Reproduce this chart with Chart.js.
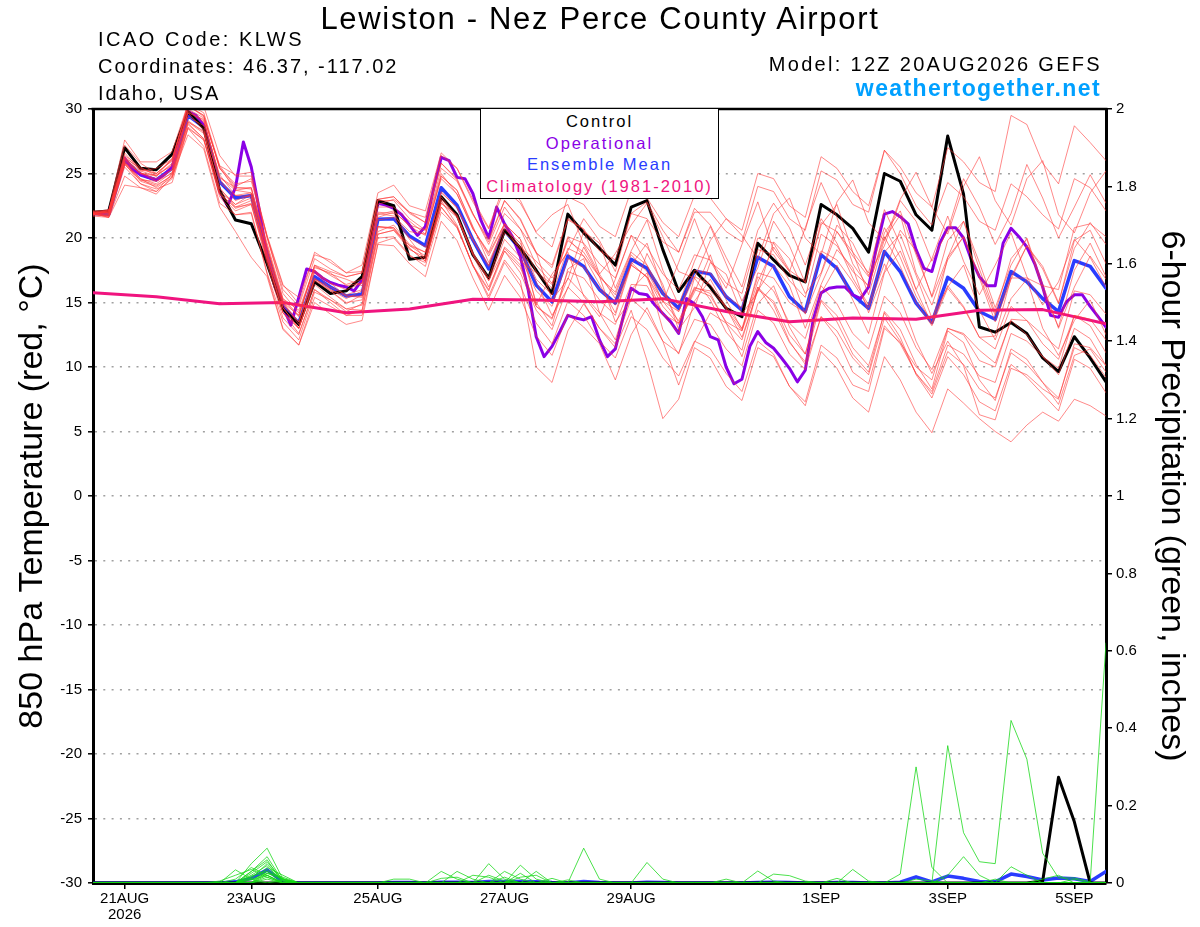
<!DOCTYPE html>
<html><head><meta charset="utf-8">
<script src="https://cdn.jsdelivr.net/npm/chart.js@4.4.1/dist/chart.umd.min.js"></script>
<style>
html,body{margin:0;padding:0;background:#fff;}
#wrap{position:relative;width:1200px;height:927px;overflow:hidden;font-family:"Liberation Sans",Arial,Helvetica,sans-serif;}
canvas{position:absolute;left:0;top:0;}
.t{position:absolute;white-space:nowrap;color:#000;line-height:1;}
#legend{position:absolute;left:480px;top:108px;width:237px;height:89px;border:1.5px solid #000;background:#fff;}
#legend div{position:absolute;left:0;width:100%;text-align:center;font-size:16.5px;letter-spacing:2px;line-height:1;white-space:nowrap;}
</style></head>
<body><div id="wrap">
<canvas id="c" width="1200" height="927"></canvas>
<div class="t" style="left:0;width:1200px;text-align:center;top:3px;font-size:31px;letter-spacing:1.7px;">Lewiston - Nez Perce County Airport</div>
<div class="t" style="left:98px;top:29px;font-size:20px;letter-spacing:2.5px;">ICAO Code: KLWS</div>
<div class="t" style="left:98px;top:56px;font-size:20px;letter-spacing:2px;">Coordinates: 46.37, -117.02</div>
<div class="t" style="left:98px;top:82.5px;font-size:20px;letter-spacing:2px;">Idaho, USA</div>
<div class="t" style="right:98px;top:54px;font-size:20px;letter-spacing:2.3px;">Model: 12Z 20AUG2026 GEFS</div>
<div class="t" style="right:99px;top:77px;font-size:23px;font-weight:bold;letter-spacing:1.4px;color:#00a0ff;">weathertogether.net</div>
<div id="legend">
  <div style="top:4px;color:#000;">Control</div>
  <div style="top:25.5px;color:#8a00e6;">Operational</div>
  <div style="top:46.5px;color:#2a3cff;">Ensemble Mean</div>
  <div style="top:69px;color:#f0147f;">Climatology (1981-2010)</div>
</div>
</div>
<script>
// ---- time axis (hours after 12Z 20AUG2026) ----
const tickHours  = [12, 60, 108, 156, 204, 276, 324, 372];
const tickLabels = [["21AUG","2026"], "23AUG", "25AUG", "27AUG", "29AUG", "1SEP", "3SEP", "5SEP"];

// ---- 850 hPa temperature (°C), 6-hourly ----
const controlTemp = [22.0,22.1,27.0,25.4,25.3,26.5,29.8,28.5, 23.7,21.4,21.1,18.0,14.5,13.3,16.6,15.7, 15.9,17.0,22.9,22.5,18.35,18.5,23.2,21.8, 18.7,16.9,20.6,19.2,17.5,15.7,21.85,20.4, 19.2,17.9,22.4,22.9,19.1,15.85,17.5,16.2, 14.55,13.9,19.6,18.3,17.1,16.6,22.6,21.8, 20.75,18.9,25.0,24.4,21.8,20.6,27.9,23.4, 13.1,12.7,13.45,12.6,10.7,9.65,12.35,10.7, 8.85];
const meanTemp = [21.9,21.85,26.05,24.9,24.5,25.4,29.5,28.6, 24.35,23.1,23.3,18.8,14.7,13.4,17.0,16.2, 15.5,15.65,21.45,21.5,20.15,19.4,23.9,22.55, 19.85,17.6,20.6,19.1,16.35,15.05,18.6,17.8, 16.0,14.95,18.35,17.65,15.7,14.55,17.45,17.2, 15.45,14.4,18.5,17.8,15.45,14.3,18.7,17.65, 15.6,14.55,18.95,17.4,14.95,13.45,16.95,16.1, 14.3,13.7,17.4,16.6,15.3,14.3,18.25,17.8, 16.1];
// operational run, 3-hourly
const operationalTemp = [21.9,21.9,22.1,24.0,26.2,25.3,24.95,24.7, 24.5,24.9,25.5,27.85,29.8,29.5,28.75,26.05, 23.6,22.5,23.9,27.45,25.5,22.2,18.55,16.2, 14.7,13.25,15.4,17.6,17.4,16.9,16.55,16.35, 16.2,15.9,16.75,19.6,22.7,22.55,22.3,21.8, 21.0,20.2,20.9,23.7,26.25,26.0,24.7,24.6, 23.45,21.4,20.0,22.4,21.1,20.1,18.55,15.95, 12.35,10.8,11.6,12.75,14.0,13.8,13.65,13.9, 12.1,10.8,11.4,13.9,16.1,15.7,15.6,14.8, 14.15,13.5,12.6,15.3,14.9,13.9,12.35,12.1, 10.0,8.7,9.05,11.6,12.75,11.9,11.45,10.7, 9.9,8.85,9.75,13.65,15.75,16.1,16.2,16.2, 15.6,15.3,16.2,19.3,21.85,22.05,21.65,21.1, 19.1,17.65,17.4,19.6,20.8,20.8,20.0,18.3, 17.0,16.3,16.3,19.6,20.75,20.1,19.3,18.0, 16.2,14.0,13.85,15.05,15.6,15.6,14.7,13.9, 13.1];
// climatology, daily at 12Z
const climatologyTemp = [15.75,15.45,14.9,15.0,14.2,14.5,15.25,15.2,15.05,15.3,14.3,13.5,13.8,13.7,14.4,14.45,13.35];

const member01 = [21.9,22.0,27.2,25.8,25.0,26.0,30.2,29.5, 25.4,24.2,24.4,20.0,16.0,14.7,18.4,17.6, 17.0,17.3,23.0,23.2,22.0,21.2,25.8,24.6, 21.9,19.7,22.9,21.5,18.9,17.7,21.4,20.7, 19.0,18.3,21.9,21.5,19.7,18.9,22.0,22.0, 20.5,19.7,24.0,23.6,21.5,20.6,25.2,24.5, 22.6,22.0,26.8,25.5,23.5,22.4,27.0,25.9, 24.3,23.6,29.5,28.8,25.8,24.2,28.7,27.4, 26.0];
const member02 = [21.8,21.7,25.9,24.6,24.2,25.1,29.0,28.1, 23.9,22.4,22.6,18.0,13.8,12.5,16.0,15.2, 14.5,14.4,20.0,20.1,18.7,17.8,22.0,20.8, 17.9,15.3,18.1,16.3,13.4,11.8,15.1,14.0, 12.0,10.7,13.9,12.9,10.7,9.3,12.0,11.4, 9.5,8.1,12.0,11.0,8.5,7.0,11.2,9.9, 7.6,6.5,10.8,9.0,6.5,4.9,8.3,7.2, 6.0,5.0,4.2,5.5,6.5,5.8,7.5,7.0, 6.2];
const member03 = [22.0,22.1,26.4,25.5,24.8,26.2,30.0,29.3, 25.6,24.0,24.6,20.2,16.4,14.9,18.9,18.1, 17.3,17.9,23.5,24.1,22.5,22.1,26.6,25.4, 22.8,20.7,23.8,22.7,20.5,21.8,22.6,19.5, 17.2,18.8,21.0,22.7,20.1,17.4,16.9,19.8, 21.5,20.2,18.4,21.9,23.1,20.0,18.7,22.8, 24.5,21.2,19.8,23.0,25.1,22.4,20.3,24.0, 26.3,22.9,21.0,24.6,26.0,21.8,20.4,23.5, 25.2];
const member04 = [21.7,21.6,24.8,23.9,23.6,24.6,28.5,27.6, 23.2,21.8,21.9,17.2,13.0,11.7,15.0,14.1, 13.3,13.6,19.6,20.0,18.6,18.1,22.7,21.6, 18.7,16.2,19.0,17.3,14.4,12.9,16.2,15.0, 13.0,11.8,15.3,14.2,12.0,11.1,13.7,13.3, 11.4,10.1,14.4,13.4,11.0,9.8,13.9,12.8, 10.7,9.4,13.8,12.0,9.5,7.9,11.2,10.2, 8.3,7.6,11.1,10.2,8.8,7.6,11.5,10.9, 9.2];
const member05 = [22.0,21.9,26.2,25.0,24.9,25.6,29.9,29.1, 24.7,23.7,23.5,19.4,15.0,13.3,17.5,16.0, 15.3,15.9,21.9,21.7,20.5,20.3,24.6,23.4, 20.7,18.9,21.9,20.7,18.9,15.2,16.8,20.5, 19.6,16.1,19.0,21.4,17.5,14.8,18.2,20.9, 18.0,15.1,17.7,21.3,19.4,16.5,21.0,22.6, 18.9,17.3,22.2,19.5,16.0,18.4,21.7,18.2, 15.6,17.9,20.4,17.0,14.8,16.6,19.9,18.5, 16.2];
const member06 = [21.8,22.2,25.7,24.5,24.4,25.0,29.0,28.3, 23.6,22.6,23.4,18.6,15.2,13.9,17.8,17.2, 16.8,16.3,22.0,21.9,20.0,19.3,23.2,21.6, 18.7,16.7,19.2,17.9,14.7,13.8,16.9,15.6, 14.2,13.3,16.4,16.3,14.1,13.4,16.1,15.9, 14.7,13.0,17.0,15.9,13.4,12.2,16.3,14.9, 12.6,11.4,15.5,14.2,11.5,9.8,13.0,12.5, 10.5,10.0,13.7,13.6,12.5,11.4,15.9,15.6, 14.1];
const member07 = [22.1,22.1,26.6,25.2,25.4,26.1,30.4,29.7, 25.6,24.9,25.1,20.1,16.3,15.4,18.7,18.3, 17.3,17.4,22.9,22.9,21.5,20.6,25.0,23.4, 20.7,18.8,21.1,19.9,14.8,17.2,18.9,15.5, 13.9,16.8,20.2,17.9,15.0,18.1,21.5,18.2, 16.1,19.5,22.8,19.0,17.4,20.8,24.3,21.6, 18.0,16.2,20.4,22.1,18.7,15.5,19.8,21.3, 17.6,14.2,18.4,19.9,16.0,13.1,17.5,19.6, 17.0];
const member08 = [21.9,21.6,25.5,24.2,23.8,24.3,28.5,27.1, 22.7,21.8,22.0,17.3,13.5,12.1,15.8,15.2, 14.3,14.9,20.5,21.0,19.5,18.9,23.6,22.3, 19.8,17.8,20.7,19.6,16.8,15.6,19.2,18.6, 17.0,15.6,18.7,17.4,15.1,13.6,16.2,15.7, 13.4,12.1,16.0,15.1,12.5,11.0,15.2,14.0, 11.5,10.1,14.2,12.3,9.4,7.6,10.8,9.4, 7.3,6.6,10.2,9.2,7.9,6.6,10.6,9.9, 8.0];
const member09 = [22.0,21.8,25.8,25.1,24.4,25.3,29.7,28.4, 24.6,22.9,23.4,18.3,14.6,13.0,16.7,15.9, 14.9,15.6,21.6,22.0,21.0,20.6,25.4,24.4, 21.8,19.9,22.9,21.4,18.8,17.9,21.5,20.7, 17.2,15.3,17.9,19.6,16.1,13.4,15.8,18.7, 15.2,12.9,16.6,19.3,17.4,14.1,17.2,20.5, 18.9,15.6,19.9,21.8,17.3,14.8,18.3,20.1, 16.9,13.5,16.8,19.4,17.8,15.0,19.2,21.2, 19.5];
const member10 = [21.9,22.0,26.1,25.2,24.8,25.8,29.7,29.2, 24.7,23.9,23.8,19.6,15.3,14.4,17.7,17.3, 16.3,16.5,21.4,21.6,19.9,18.3,22.9,21.0, 17.8,15.9,19.0,17.7,14.7,13.7,17.4,16.9, 15.2,14.0,17.9,17.0,15.1,14.3,17.5,17.3, 15.5,14.6,19.1,18.7,16.7,15.4,20.3,19.4, 17.4,16.3,20.1,17.8,15.0,13.2,16.1,14.6, 12.3,11.4,14.7,13.6,11.8,10.6,14.0,13.2, 11.1];
const member11 = [21.8,21.8,25.9,24.4,24.0,24.9,28.9,27.7, 23.5,22.3,22.7,18.3,14.2,13.0,16.8,16.2, 15.6,16.0,21.8,22.1,20.9,20.2,24.8,23.7, 20.8,18.6,21.1,19.2,15.0,13.2,17.6,18.4, 14.2,12.1,16.0,17.3,12.9,11.0,15.1,16.8, 14.6,12.3,15.9,17.9,16.3,13.0,16.4,19.1, 17.7,14.2,17.4,20.6,19.0,15.4,18.5,21.3, 18.1,14.6,17.9,20.0,16.4,13.0,16.2,18.6, 16.8];
const member12 = [21.9,22.1,26.2,25.4,25.0,26.1,30.3,29.4, 25.5,23.7,23.9,19.0,14.6,13.0,16.4,15.4, 14.5,14.8,20.3,20.6,19.1,18.5,22.7,21.8, 18.8,16.9,20.4,19.3,18.2,16.9,19.0,21.5, 19.8,17.4,21.9,22.8,20.6,18.9,22.3,21.0, 18.5,16.2,20.6,22.7,20.8,17.9,21.5,19.6, 16.9,14.8,18.9,20.3,17.1,13.8,16.2,17.9, 14.4,12.1,15.3,16.8,13.0,10.9,13.6,15.2, 12.5];
const member13 = [21.8,21.9,25.8,24.2,23.6,25.0,29.1,28.2, 23.8,22.6,23.1,18.7,14.8,13.5,17.3,16.5, 16.0,16.5,22.6,23.0,22.0,21.6,26.4,25.4, 23.0,20.8,24.2,22.9,20.4,19.3,23.2,22.6, 20.9,20.1,23.7,23.1,21.2,20.1,23.3,23.1, 21.5,20.6,25.0,24.6,22.5,21.6,26.3,25.4, 23.6,22.5,26.8,25.0,22.5,21.0,24.3,23.2, 21.3,20.6,24.2,23.2,21.8,20.7,24.6,23.9, 22.1];
const member14 = [22.0,22.0,26.1,25.0,24.8,25.7,29.8,29.0, 24.9,23.3,23.2,18.5,14.2,12.6,16.0,15.0, 14.0,14.0,19.5,19.4,18.0,17.0,21.3,19.8, 16.9,14.4,17.1,15.4,12.4,10.9,14.1,13.1, 11.8,9.0,12.5,14.6,12.0,8.6,11.9,14.2, 13.4,10.8,14.9,16.3,13.1,11.0,15.7,17.9, 15.2,12.6,17.3,19.0,16.0,13.3,18.5,20.1, 17.1,14.0,17.0,19.4,17.6,14.9,19.8,20.6, 18.0];
const member15 = [21.9,21.7,25.7,24.5,24.1,24.8,28.8,27.7, 23.4,22.4,22.9,18.8,15.0,14.0,17.9,17.4, 17.0,17.3,23.0,23.2,21.9,21.2,25.8,24.5, 21.9,19.5,22.4,20.7,17.9,16.5,19.8,18.9, 17.0,15.8,18.9,17.9,15.7,14.3,17.0,16.4, 14.5,12.8,16.2,14.9,12.0,10.2,13.9,12.3, 9.6,8.7,13.2,11.8,9.5,8.1,11.7,11.0, 9.3,8.8,12.6,12.0,10.8,9.9,14.0,13.7, 12.1];
const member16 = [22.0,22.2,27.6,25.9,25.9,26.7,30.4,30.2, 26.4,24.8,24.8,20.1,15.7,14.2,17.5,16.5, 15.5,15.5,20.9,20.7,19.2,18.2,22.4,20.9, 17.9,15.5,18.3,16.7,10.0,8.8,12.8,14.9, 13.0,11.5,14.4,10.5,6.0,7.5,11.5,10.7, 8.5,7.4,11.5,10.8,8.5,7.3,11.7,10.7, 8.6,8.1,13.0,11.9,10.0,9.0,13.0,12.6, 11.3,10.3,13.6,12.5,10.8,9.4,13.0,12.2, 10.1];
const member17 = [21.9,21.6,24.1,23.9,23.4,24.75,28.0,26.9, 22.4,20.5,18.5,17.0,12.9,11.7,15.4,14.7, 14.0,14.4,20.3,20.6,19.4,18.9,23.5,22.4, 19.9,17.9,21.1,19.9,17.4,16.4,20.1,19.6, 18.0,16.9,20.2,19.3,17.2,16.0,18.7,18.3, 16.5,15.7,20.0,19.6,17.5,16.6,21.2,20.5, 18.6,17.0,20.8,18.5,15.5,13.4,16.3,14.7, 12.3,12.4,16.9,16.9,16.3,16.0,20.8,21.1, 20.1];
const member18 = [21.9,22.0,26.0,25.0,24.6,25.3,29.4,28.7, 24.3,23.3,23.5,19.2,15.3,14.0,17.9,17.1, 16.4,16.8,22.4,22.4,21.3,20.3,24.8,23.7, 20.9,18.1,20.9,19.0,16.6,14.0,16.1,19.3, 17.0,13.5,15.2,18.8,16.4,12.9,14.6,18.1, 17.2,14.1,15.8,19.7,18.4,15.7,17.3,21.0, 19.6,17.1,19.4,22.9,21.3,18.2,20.6,24.6, 22.4,19.5,21.9,25.7,23.1,20.0,22.4,24.9, 22.7];
const member19 = [21.9,22.1,26.3,25.3,25.0,26.0,30.3,29.5, 25.4,23.9,23.9,19.3,15.0,13.5,16.9,15.9, 15.0,15.2,20.8,20.8,19.4,18.6,23.0,21.7, 18.9,16.7,19.9,18.5,15.9,14.7,18.4,17.7, 16.0,14.8,17.9,17.0,14.7,13.3,16.0,15.5, 13.5,12.8,17.3,16.9,15.0,14.2,19.0,18.3, 16.6,14.6,18.0,15.4,12.0,9.5,12.0,10.1, 6.3,5.9,9.9,9.4,8.3,7.5,11.8,11.5, 10.1];
const member20 = [21.9,21.7,25.8,24.6,23.9,24.7,28.6,27.6, 23.4,22.1,22.6,18.3,14.2,13.0,16.8,16.0, 15.5,15.4,20.9,20.8,19.2,18.2,22.4,20.8, 17.9,16.0,19.3,18.2,17.3,16.1,20.0,18.6, 16.4,14.2,18.1,16.9,14.1,12.6,16.9,15.2, 12.7,11.3,16.2,14.4,11.9,10.4,15.1,13.5, 11.0,9.6,14.3,12.9,10.2,8.3,12.8,11.9, 9.0,7.4,11.4,10.6,8.8,7.1,10.9,11.4, 9.6];
const tempMembers = [member01,member02,member03,member04,member05,member06,member07,member08,member09,member10,
                     member11,member12,member13,member14,member15,member16,member17,member18,member19,member20];

// ---- 6-hour precipitation (inches), 6-hourly ----
const controlPrecip = [0,0,0,0,0,0,0,0, 0,0,0,0,0,0,0,0, 0,0,0,0,0,0,0,0, 0,0,0,0,0,0,0,0, 0,0,0,0,0,0,0,0, 0,0,0,0,0,0,0,0, 0,0,0,0,0,0,0,0, 0,0,0,0,0.005,0.273,0.158,0, 0];
const meanPrecip = [0,0,0,0,0,0,0,0, 0,0.003,0.012,0.034,0.003,0,0,0, 0,0,0,0.001,0.001,0,0.002,0.002, 0.001,0.004,0.004,0.004,0.003,0.001,0,0.004, 0.001,0,0,0.002,0.001,0,0,0, 0,0,0.001,0.002,0.001,0,0,0.001, 0.001,0,0,0.002,0.016,0.003,0.018,0.012, 0.004,0.003,0.023,0.017,0.008,0.013,0.011,0.004, 0.03];
const precip01 = [0,0,0,0,0,0,0,0, 0,0.034,0.01,0,0,0,0,0, 0,0,0,0,0,0,0.03,0.01, 0,0,0,0,0,0,0,0, 0,0,0,0,0,0,0,0, 0,0,0,0,0,0,0,0, 0,0,0,0.023,0.30,0.04,0,0, 0,0,0,0,0,0,0,0, 0];
const precip02 = [0,0,0,0,0,0,0,0, 0,0,0.05,0.09,0.01,0,0,0, 0,0,0,0,0,0,0,0, 0,0,0,0,0,0,0,0.09, 0.01,0,0,0,0,0,0,0, 0,0,0,0,0,0,0,0, 0,0,0,0,0,0,0.355,0.13, 0.055,0.05,0.42,0.32,0.077,0.013,0.013,0.003, 0.62];
const precip03 = [0,0,0,0,0,0,0,0, 0,0,0.03,0.068,0.005,0,0,0, 0,0,0,0,0,0,0,0, 0,0.05,0.01,0,0,0,0,0, 0,0,0,0,0,0,0,0, 0,0,0,0,0,0,0,0, 0,0,0,0,0,0,0.02,0.068, 0.02,0,0.042,0.02,0,0,0,0, 0];
const precip04 = [0,0,0,0,0,0,0,0, 0,0,0.02,0.045,0,0,0,0, 0,0,0,0,0,0,0,0, 0,0,0,0.046,0.01,0,0,0, 0,0,0,0.053,0.01,0,0,0, 0,0,0,0,0,0,0,0, 0,0,0,0,0,0,0,0, 0,0,0,0,0,0,0,0, 0];
const precip05 = [0,0,0,0,0,0,0,0, 0,0,0.015,0.035,0.01,0,0,0, 0,0,0,0.01,0.01,0,0,0, 0,0,0,0,0,0,0,0, 0,0,0,0,0,0,0,0, 0,0,0.031,0.005,0,0,0,0, 0,0,0,0,0,0,0,0, 0,0,0,0,0,0,0,0, 0];
const precip06 = [0,0,0,0,0,0,0,0, 0,0.01,0.04,0.02,0,0,0,0, 0,0,0,0,0,0,0,0, 0,0,0.03,0.01,0,0,0,0, 0,0,0,0,0,0,0,0, 0,0,0,0,0,0,0,0, 0.035,0.005,0,0,0,0,0,0, 0,0,0,0,0,0,0,0, 0];
const precip07 = [0,0,0,0,0,0,0,0, 0,0,0,0.025,0.015,0,0,0, 0,0,0,0,0,0,0,0.03, 0.01,0,0,0,0,0,0,0, 0,0,0,0,0,0,0,0, 0,0,0,0.023,0.019,0.005,0,0, 0,0,0,0,0,0,0,0, 0,0,0,0,0,0,0,0, 0];
const precip08 = [0,0,0,0,0,0,0,0, 0,0,0.025,0.055,0.008,0,0,0, 0,0,0,0,0,0,0,0, 0,0,0,0,0.03,0,0,0, 0,0,0,0,0,0,0,0, 0,0,0,0,0,0,0,0.012, 0,0,0,0,0,0,0,0, 0,0,0,0,0,0,0,0, 0];
const precip09 = [0,0,0,0,0,0,0,0, 0,0,0,0.03,0.012,0,0,0, 0,0,0,0,0,0,0,0, 0.02,0.015,0,0,0,0,0,0, 0,0,0,0,0,0,0,0, 0,0,0,0,0,0,0,0, 0,0,0,0,0,0,0,0, 0,0,0,0,0,0,0,0, 0];
const precip10 = [0,0,0,0,0,0,0,0, 0,0,0.008,0.02,0,0,0,0, 0,0,0,0,0,0,0,0, 0,0,0.015,0,0,0,0,0, 0,0,0,0,0,0,0,0, 0.01,0,0,0,0,0,0,0, 0,0,0,0,0,0,0,0, 0,0,0,0,0,0,0,0, 0];
const precip11 = [0,0,0,0,0,0,0,0, 0.005,0.02,0.035,0.015,0,0,0,0, 0,0,0,0,0,0,0,0, 0,0,0,0.025,0,0,0,0, 0,0,0,0,0,0,0,0, 0,0,0,0,0,0,0,0, 0,0,0,0,0,0,0,0, 0,0,0,0,0,0,0,0, 0];
const precip12 = [0,0,0,0,0,0,0,0, 0,0,0,0.04,0.02,0,0,0, 0,0,0,0,0,0,0,0, 0,0,0,0,0,0,0,0, 0,0,0,0,0,0,0,0, 0,0,0,0,0,0,0,0, 0,0,0,0,0,0,0,0, 0,0,0,0,0,0,0,0, 0];
const precip13 = [0,0,0,0,0,0,0,0, 0,0,0.012,0.05,0.005,0,0,0, 0,0,0,0,0,0,0,0, 0,0,0,0,0,0.012,0,0, 0,0,0,0,0,0,0,0, 0,0,0,0,0,0,0,0, 0,0,0,0,0,0,0,0, 0,0,0,0,0,0,0,0, 0];
const precip14 = [0,0,0,0,0,0,0,0, 0,0,0,0.015,0,0,0,0, 0,0,0,0,0,0,0,0, 0,0.02,0.005,0,0,0,0,0, 0,0,0,0,0,0,0,0, 0,0,0,0,0,0,0,0, 0,0,0,0,0.01,0.005,0,0, 0,0,0,0,0,0,0,0, 0];
const precip15 = [0,0,0,0,0,0,0,0, 0,0,0.03,0.06,0,0,0,0, 0,0,0,0,0,0,0,0, 0,0,0,0,0,0,0.008,0, 0,0,0,0,0,0,0,0, 0,0,0,0,0,0,0,0, 0,0,0,0,0,0,0,0, 0,0,0,0,0,0,0,0, 0];
const precip16 = [0,0,0,0,0,0,0,0, 0,0,0,0.01,0,0,0,0, 0,0,0,0,0,0,0,0, 0,0,0,0.015,0.02,0,0,0, 0,0,0,0,0,0,0,0, 0,0,0,0,0,0,0,0, 0,0,0,0,0,0,0,0, 0,0,0,0,0,0,0,0, 0];
const precip17 = [0,0,0,0,0,0,0,0, 0,0,0,0,0.008,0,0,0, 0,0,0,0,0,0,0.012,0.015, 0,0,0,0,0,0,0,0, 0,0,0,0,0,0,0,0, 0,0,0,0,0,0,0,0, 0,0,0,0,0,0,0,0, 0,0,0,0,0,0,0,0, 0];
const precip18 = [0,0,0,0,0,0,0,0, 0,0,0.018,0.03,0,0,0,0, 0,0,0,0,0,0,0,0, 0,0,0,0,0,0,0,0, 0,0,0,0,0,0,0,0, 0,0,0,0,0,0,0,0, 0,0,0,0,0,0,0,0, 0,0.01,0,0,0,0,0,0, 0];
const precip19 = [0,0,0,0,0,0,0,0, 0,0,0,0.02,0,0,0,0, 0,0,0,0,0,0,0,0, 0,0,0,0,0,0,0,0, 0,0,0,0,0,0,0,0, 0,0,0,0,0,0,0,0, 0,0,0,0,0,0,0,0, 0,0,0,0,0.01,0.02,0,0, 0];
const precip20 = [0,0,0,0,0,0,0,0, 0,0,0.01,0.025,0.01,0,0,0, 0,0,0,0,0,0,0,0, 0,0,0,0,0,0,0,0, 0,0,0,0,0,0,0,0, 0,0,0,0,0,0,0,0, 0,0,0,0,0,0,0,0, 0,0,0,0,0,0,0.01,0, 0];
const precipMembers = [precip01,precip02,precip03,precip04,precip05,precip06,precip07,precip08,precip09,precip10,
                       precip11,precip12,precip13,precip14,precip15,precip16,precip17,precip18,precip19,precip20];

// ---- build chart ----
const pts = (arr, stepH) => arr.map((v, i) => ({x: i * stepH, y: v}));
const line = (arr, stepH, color, width, axis) => ({
  data: pts(arr, stepH), borderColor: color, backgroundColor: color, borderWidth: width,
  yAxisID: axis, pointRadius: 0, tension: 0, fill: false, borderJoinStyle: 'round', borderCapStyle: 'round'
});

const datasets = [];
tempMembers.forEach(m => datasets.push(line(m, 6, 'rgba(255,55,55,0.7)', 0.85, 'y')));
precipMembers.forEach(m => datasets.push(line(m, 6, 'rgba(20,215,20,0.85)', 0.9, 'y1')));
datasets.push(line(climatologyTemp, 24, '#f0147f', 3, 'y'));
datasets.push(line(controlTemp, 6, '#000000', 3, 'y'));
datasets.push(line(operationalTemp, 3, '#8a00e6', 3, 'y'));
datasets.push(line(meanTemp, 6, '#2a3cff', 3.5, 'y'));
datasets.push(line(controlPrecip, 6, '#000000', 3, 'y1'));
datasets.push(line(meanPrecip, 6, '#2a3cff', 3.5, 'y1'));

const FONT = '"Liberation Sans", Arial, Helvetica, sans-serif';

const frame = {
  id: 'frame',
  afterDraw(chart) {
    const {ctx, chartArea: a} = chart;
    ctx.save();
    ctx.strokeStyle = '#000';
    ctx.lineWidth = 2.5;
    ctx.beginPath();
    ctx.moveTo(a.left - 1.5, a.top);
    ctx.lineTo(a.right + 1.5, a.top);
    ctx.stroke();
    ctx.restore();
  }
};

new Chart(document.getElementById('c'), {
  type: 'line',
  data: {datasets},
  plugins: [frame],
  options: {
    responsive: false,
    animation: false,
    devicePixelRatio: 1,
    layout: {padding: {top: 109, left: 0, right: 0, bottom: 0}},
    plugins: {legend: {display: false}, tooltip: {enabled: false}},
    scales: {
      x: {
        type: 'linear', min: 0, max: 384,
        afterBuildTicks: s => { s.ticks = tickHours.map(v => ({value: v})); },
        afterFit: s => { s.height = 44; },
        ticks: {
          autoSkip: false, maxRotation: 0, color: '#000', padding: 2,
          font: {family: FONT, size: 15, lineHeight: 1.08},
          callback: v => { const k = tickHours.indexOf(v); return k >= 0 ? tickLabels[k] : ''; }
        },
        grid: {drawOnChartArea: false, drawTicks: true, tickLength: 6, color: '#000', lineWidth: 1.5},
        border: {display: true, color: '#000', width: 3}
      },
      y: {
        position: 'left', min: -30, max: 30,
        afterFit: s => { s.width = 93; },
        ticks: {stepSize: 5, color: '#000', padding: 6, font: {family: FONT, size: 15}},
        grid: {
          color: c => (c.tick && (c.tick.value === 30 || c.tick.value === -30)) ? 'rgba(0,0,0,0)' : '#a0a0a0',
          lineWidth: 1.6, drawTicks: true, tickLength: 5, tickColor: '#000', tickWidth: 1.5
        },
        border: {display: true, color: '#000', width: 3, dash: [2, 6.3]},
        title: {display: true, text: '850 hPa Temperature (red, °C)', color: '#000',
                font: {family: FONT, size: 34}, padding: {top: 12, bottom: 0}}
      },
      y1: {
        position: 'right', min: 0, max: 2,
        afterFit: s => { s.width = 94; },
        ticks: {stepSize: 0.2, color: '#000', padding: 4, font: {family: FONT, size: 15},
                callback: v => String(Math.round(v * 10) / 10)},
        grid: {drawOnChartArea: false, drawTicks: true, tickLength: 6, color: '#000', lineWidth: 1.5},
        border: {display: true, color: '#000', width: 3},
        title: {display: true, text: '6-hour Precipitation (green, inches)', color: '#000',
                font: {family: FONT, size: 34}, padding: {top: 8, bottom: 0}}
      }
    }
  }
});
</script>
</body></html>
